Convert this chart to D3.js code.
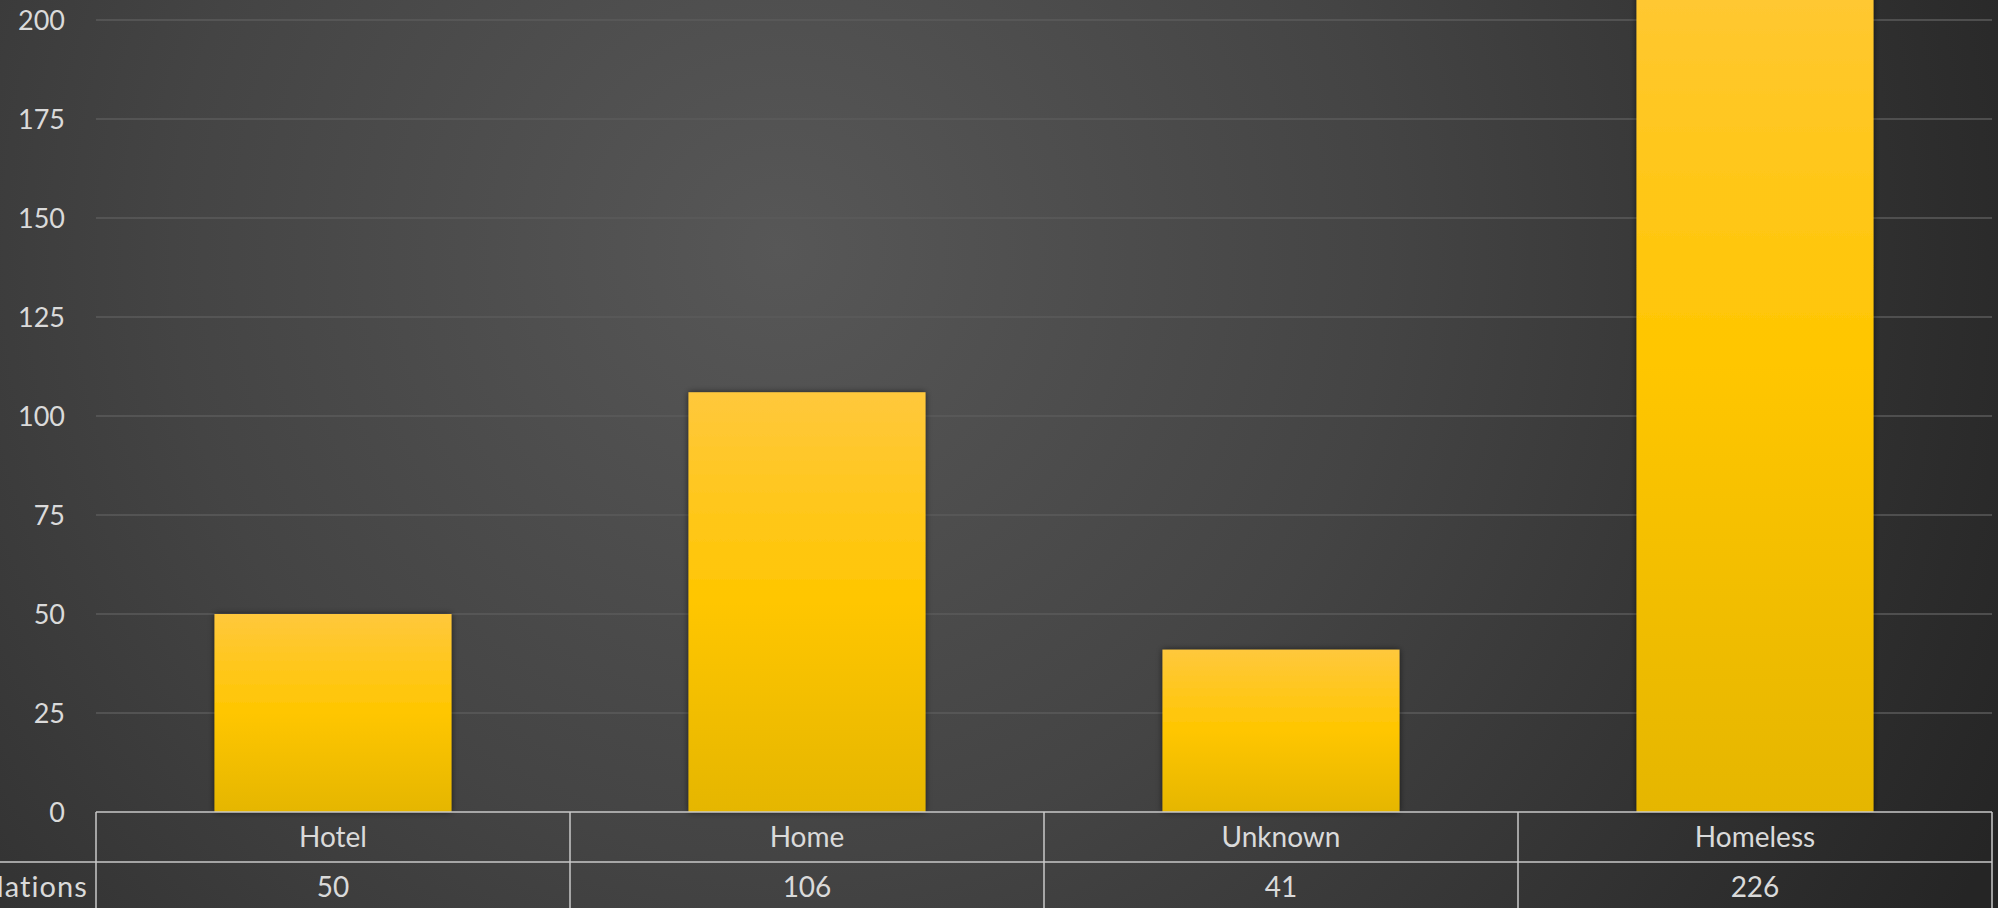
<!DOCTYPE html>
<meta charset="utf-8">
<html>
  <head>
    <style>
      body { margin: 0; background: #2e2e2e; overflow: hidden; }
      text { font-family: Lato, "Open Sans", sans-serif; }
    </style>
  </head>
  <body>
    <div id="chart"></div>
  </body>
<script src="https://d3js.org/d3.v7.min.js"></script>
<script>
// chart data
var categories = ["Hotel", "Home", "Unknown", "Homeless"]
var counts = [50, 106, 41, 226]
var seriesName = "Populations"
var yTicks = [0, 25, 50, 75, 100, 125, 150, 175, 200]

var W = 1998, H = 908
var plot = {left: 96, right: 1992, top: 20, bottom: 812}
var rowH = 50

var svg = d3.select("#chart").append("svg")
    .attr("width", W)
    .attr("height", H)

var defs = svg.append("defs")

// dark radial background
var bg = defs.append("radialGradient")
    .attr("id", "bg")
    .attr("gradientUnits", "userSpaceOnUse")
    .attr("cx", 780).attr("cy", 250).attr("r", 1350)
bg.append("stop").attr("offset", "0%").attr("stop-color", "#575757")
bg.append("stop").attr("offset", "45%").attr("stop-color", "#444444")
bg.append("stop").attr("offset", "100%").attr("stop-color", "#252525")

// bar fill
var bar = defs.append("linearGradient")
    .attr("id", "barfill")
    .attr("x1", 0).attr("y1", 0).attr("x2", 0).attr("y2", 1)
bar.append("stop").attr("offset", "0%").attr("stop-color", "#ffc83c")
bar.append("stop").attr("offset", "50%").attr("stop-color", "#ffc600")
bar.append("stop").attr("offset", "100%").attr("stop-color", "#e5b600")

var shadow = defs.append("filter").attr("id", "shadow")
    .attr("x", "-10%").attr("y", "-10%").attr("width", "120%").attr("height", "120%")
shadow.append("feDropShadow")
    .attr("dx", 0).attr("dy", 0).attr("stdDeviation", 3)
    .attr("flood-color", "#000").attr("flood-opacity", 0.6)

svg.append("rect")
    .attr("width", W).attr("height", H)
    .attr("fill", "url(#bg)")

var x = d3.scaleBand()
    .domain(categories)
    .range([plot.left, plot.right])
    .paddingInner(0.5)
    .paddingOuter(0.25)

var y = d3.scaleLinear()
    .domain([0, 200])
    .range([plot.bottom, plot.top])

// gridlines
svg.append("g")
  .selectAll("line")
  .data(yTicks.slice(1))
  .join("line")
    .attr("x1", plot.left).attr("x2", plot.right)
    .attr("y1", d => y(d)).attr("y2", d => y(d))
    .attr("stroke", "#5b5b5b")
    .attr("stroke-width", 1.3)

// y tick labels
svg.append("g")
  .selectAll("text")
  .data(yTicks)
  .join("text")
    .attr("x", 65)
    .attr("y", d => y(d))
    .attr("dy", "0.36em")
    .attr("text-anchor", "end")
    .attr("fill", "#dadada")
    .style("font-size", "27px")
    .text(d => d)

// bars
svg.append("g")
  .selectAll("rect")
  .data(counts)
  .join("rect")
    .attr("x", (d, i) => x(categories[i]))
    .attr("width", x.bandwidth())
    .attr("y", d => y(d))
    .attr("height", d => y(0) - y(d))
    .attr("fill", "url(#barfill)")
    .attr("filter", "url(#shadow)")

// data table
var table = svg.append("g")
    .attr("stroke", "#c8c8c8")
    .attr("stroke-width", 1.5)

table.append("line")
    .attr("x1", plot.left).attr("x2", plot.right)
    .attr("y1", plot.bottom).attr("y2", plot.bottom)
table.append("line")
    .attr("x1", 0).attr("x2", plot.right)
    .attr("y1", plot.bottom + rowH).attr("y2", plot.bottom + rowH)

var edges = categories.map(c => x(c) - x.bandwidth() / 2)
edges.push(plot.right)
table.selectAll(".vline")
  .data(edges)
  .join("line")
    .attr("class", "vline")
    .attr("x1", d => d).attr("x2", d => d)
    .attr("y1", plot.bottom).attr("y2", H)

svg.append("g")
  .selectAll("text")
  .data(categories)
  .join("text")
    .attr("x", d => x(d) + x.bandwidth() / 2)
    .attr("y", plot.bottom + rowH / 2)
    .attr("dy", "0.36em")
    .attr("text-anchor", "middle")
    .attr("fill", "#dadada")
    .style("font-size", "28px")
    .text(d => d)

svg.append("g")
  .selectAll("text")
  .data(counts)
  .join("text")
    .attr("x", (d, i) => x(categories[i]) + x.bandwidth() / 2)
    .attr("y", plot.bottom + rowH * 1.5)
    .attr("dy", "0.36em")
    .attr("text-anchor", "middle")
    .attr("fill", "#dadada")
    .style("font-size", "28px")
    .text(d => d)

// series name, partly outside the left edge as in the source
svg.append("text")
    .attr("x", 88)
    .attr("y", plot.bottom + rowH * 1.5)
    .attr("dy", "0.36em")
    .attr("text-anchor", "end")
    .attr("fill", "#dadada")
    .style("font-size", "29px")
    .style("letter-spacing", "1.1px")
    .text(seriesName)
</script>
</html>
